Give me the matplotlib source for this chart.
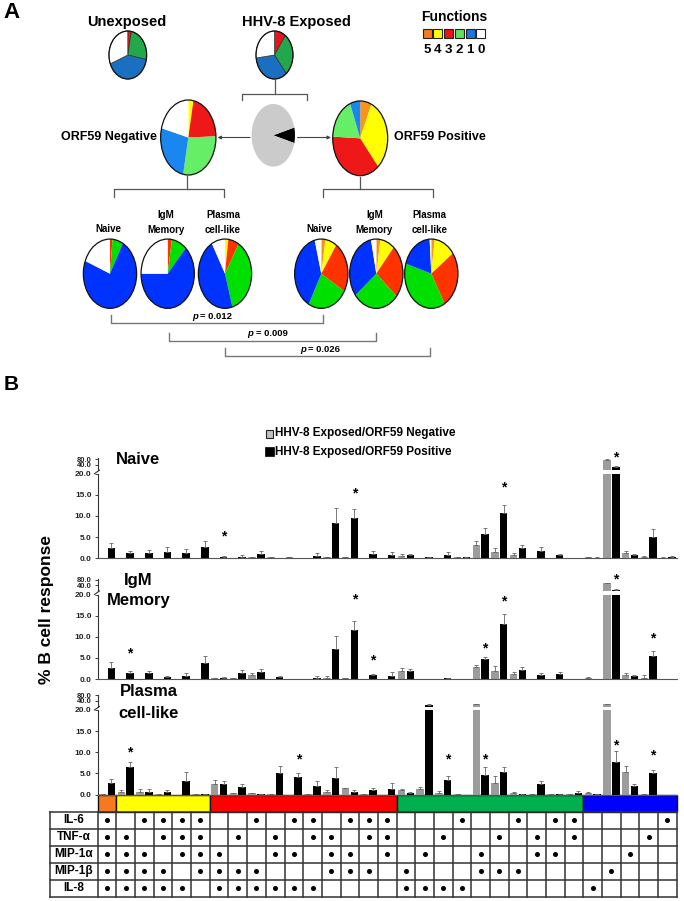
import matplotlib
matplotlib.use("Agg")
import matplotlib.pyplot as plt
from matplotlib.patches import Rectangle, Circle
from matplotlib.ticker import NullLocator
import numpy as np

plt.rcParams['font.family'] = ['Liberation Sans', 'DejaVu Sans']
plt.rcParams['font.weight'] = 'bold'

W, H = 684, 901

# ---- panel A: pie fractions (%), order = 5, 4, 3, 2, 1, 0 functions ----
FUNCS = ["5", "4", "3", "2", "1", "0"]
UNEXPOSED = [0, 0, 3, 25, 41, 31]
EXPOSED = [0, 0, 10, 29, 34, 27]
ORF59_NEG = [0, 3, 21.5, 28.5, 26, 21]
ORF59_POS = [6.7, 32, 37, 18.3, 6, 0]
SUBSETS = ["Naive", "IgM\nMemory", "Plasma\ncell-like"]
NEG_SUBSET_PIES = [[0, 0, 1.5, 6.5, 73, 19],
                   [0, 0, 2.5, 9.3, 63.2, 25],
                   [0, 2, 6.5, 37, 46.3, 8.2]]
POS_SUBSET_PIES = [[2.5, 7, 24, 24.3, 38.2, 4],
                   [2.5, 8.8, 25, 28, 32.5, 3.2],
                   [2, 13, 26.7, 38, 19.3, 1]]
ORF59_SPLIT = [8, 92]          # positive, negative
P_VALUES = ["0.012", "0.009", "0.026"]

# ---- panel B: % B cell response for the 31 cytokine combinations ----
GROUP_SIZES = [1, 5, 10, 10, 5]
naive_neg = [0.1, 0, 0, 0, 0, 0,
             0.1, 0.1, 0.3, 0.2, 0.3, 0.1, 0.3, 0.3, 0, 0,
             0.5, 0, 0.1, 0.2, 3.1, 1.5, 0.8, 0.1, 0, 0.1,
             0.2, 72, 1.2, 0.3, 0.1]
naive_neg_err = [0, 0, 0, 0, 0, 0,
                 0, 0, 0.1, 0, 0.1, 0, 0.1, 0.1, 0, 0,
                 0.5, 0, 0, 0.1, 1.0, 0.8, 0.4, 0, 0, 0,
                 0.1, 8, 0.4, 0.2, 0.1]
naive_pos = [2.4, 1.2, 1.3, 1.5, 1.2, 2.75,
             0.4, 0.4, 1.1, 0.1, 0, 0.6, 8.4, 9.45, 1.0, 0.8,
             0.7, 0.2, 0.8, 0.2, 5.7, 10.8, 2.3, 1.65, 0.7, 0.1,
             0.1, 29, 0.7, 5.1, 0.3]
naive_pos_err = [1.2, 0.4, 0.7, 1.2, 1.0, 1.25,
                 0.2, 0.3, 0.5, 0, 0, 0.6, 3.6, 2.15, 0.6, 0.7,
                 0.3, 0.1, 0.6, 0.1, 1.4, 1.8, 0.8, 1.0, 0.3, 0.05,
                 0.1, 7, 0.25, 1.7, 0.3]
igm_neg = [0.05, 0, 0.1, 0.1, 0, 0.1,
           0.2, 0.2, 0.85, 0, 0, 0.1, 0.3, 0.2, 0, 0,
           1.95, 0, 0.1, 0.1, 2.75, 1.95, 1.1, 0, 0.1, 0,
           0.2, 51.5, 0.85, 0.25, 0.1]
igm_neg_err = [0, 0, 0, 0, 0, 0,
               0, 0, 0.6, 0, 0, 0, 0.3, 0, 0, 0,
               0.7, 0, 0, 0, 0.6, 1.15, 0.6, 0, 0, 0,
               0.3, 5, 0.6, 0.7, 0]
igm_pos = [2.7, 1.4, 1.35, 0.45, 0.7, 3.85,
           0.3, 1.4, 1.55, 0.45, 0.1, 0.35, 7.1, 11.65, 1.0, 0.7,
           1.95, 0.1, 0.2, 0, 4.65, 13.0, 2.2, 0.95, 1.2, 0.1,
           0.1, 24, 0.7, 5.5, 0.1]
igm_pos_err = [1.4, 0.55, 0.45, 0.25, 0.75, 1.65,
               0.1, 0.7, 0.7, 0.25, 0, 0.3, 3.1, 2.15, 0.25, 1.0,
               0.4, 0, 0, 0, 0.55, 2.4, 0.55, 0.45, 0.45, 0,
               0, 3, 0.2, 1.2, 0]
plasma_neg = [0.2, 0.55, 0.7, 0.2, 0, 0.05,
              2.4, 0.4, 0.35, 0.2, 0, 0.05, 0.55, 1.5, 0.1, 0,
              1.0, 1.2, 0.4, 0.1, 26, 2.7, 0.3, 0.2, 0.1, 0.05,
              0.3, 26, 5.35, 0.2, 0]
plasma_neg_err = [0, 0.4, 0.5, 0, 0, 0,
                  1.1, 0, 0, 0, 0, 0, 0.5, 0.1, 0, 0,
                  0.3, 0.6, 0.5, 0, 2, 1.7, 0.4, 0, 0, 0,
                  0.3, 2, 1.45, 0, 0]
plasma_pos = [2.75, 6.5, 0.7, 0.55, 3.15, 0.15,
              2.5, 1.75, 0.2, 5.2, 4.25, 1.9, 3.85, 0.7, 0.95, 1.35,
              0.3, 25, 3.5, 0, 4.7, 5.3, 0.1, 2.45, 0.1, 0.25,
              0.1, 7.7, 2.05, 5.0, 0]
plasma_pos_err = [0.95, 1.3, 0.6, 0.4, 2.25, 0,
                  0.6, 0.7, 0, 1.6, 0.75, 1.4, 2.65, 0.4, 0.6, 1.45,
                  0.2, 2, 0.8, 0, 1.9, 1.2, 0, 0.85, 0, 0.5,
                  0, 2.5, 0.45, 0.7, 0]
naive_star_cols = [7, 14, 22, 28]
naive_star_y = [6.05, 16.1, 17.7, 24.8]
igm_star_cols = [2, 14, 15, 21, 22, 28, 30]
igm_star_y = [6.9, 19.7, 5.3, 8.1, 19.1, 24.4, 10.5]
plasma_star_cols = [2, 11, 19, 21, 28, 30]
plasma_star_y = [10.9, 9.1, 9.1, 9.1, 12.4, 10.1]

CYTOKINES = ["IL-6", "TNF-α", "MIP-1α", "MIP-1β", "IL-8"]
DOTS = {
    "IL-6":   [1, 3, 4, 5, 6, 9, 11, 12, 14, 15, 16, 20, 23, 25, 26, 31],
    "TNF-α":  [1, 2, 4, 5, 6, 8, 10, 12, 13, 15, 16, 19, 22, 24, 26, 30],
    "MIP-1α": [1, 2, 3, 5, 6, 7, 10, 11, 13, 14, 16, 18, 21, 24, 25, 29],
    "MIP-1β": [1, 2, 3, 4, 6, 7, 8, 9, 13, 14, 15, 17, 21, 22, 23, 28],
    "IL-8":   [1, 2, 3, 4, 5, 7, 8, 9, 10, 11, 12, 17, 18, 19, 20, 27],
}

TOP_COLORS = ['#f47920', '#ffff00', '#e8141b', '#22a84b', '#1a6fc0', '#ffffff']
MID_COLORS = ['#f7941d', '#ffff00', '#ee1818', '#66ee66', '#1a86f0', '#ffffff']
LOW_COLORS = ['#f7941d', '#ffff00', '#ff3300', '#00e000', '#0033ff', '#ffffff']
KEY_COLORS = ['#f47920', '#ffff00', '#ee1111', '#5fe35f', '#1a75dd', '#ffffff']
BAR_COLORS = ['#f47920', '#ffff00', '#ff0000', '#00b04f', '#0000ff']
GRAY = '#9c9c9c'

X0, CW = 97.7, 18.68
X1 = X0 + 31 * CW


def box(x0, y0, x1, y1):
    return [x0 / W, 1 - y1 / H, (x1 - x0) / W, (y1 - y0) / H]


fig = plt.figure(figsize=(W / 100, H / 100), dpi=100)
fig.patch.set_facecolor('white')
ov = fig.add_axes([0, 0, 1, 1])
ov.set_xlim(0, W)
ov.set_ylim(H, 0)
ov.axis('off')


def pie(cx, cy, w, h, fracs, colors, inner=True):
    ax = fig.add_axes(box(cx - w / 2, cy - h / 2, cx + w / 2, cy + h / 2))
    keep = [(f, c) for f, c in zip(fracs, colors) if f > 0]
    wedges, _ = ax.pie([f for f, _ in keep], colors=[c for _, c in keep],
                       startangle=90, counterclock=False,
                       wedgeprops=dict(linewidth=0.5 if inner else 0, edgecolor='#333'))
    for wd in wedges:
        wd.set_clip_on(False)
    ax.add_patch(Circle((0, 0), 1, fill=False, lw=0.9, ec='#111', clip_on=False))
    ax.set_aspect('auto')
    ax.set_xlim(-1, 1)
    ax.set_ylim(-1, 1)
    ax.axis('off')


# ---------------- panel A ----------------
ov.text(3, 13, 'A', fontsize=16, va='center')
ov.text(126.7, 22.3, 'Unexposed', fontsize=10.5, ha='center', va='center')
ov.text(296, 22.3, 'HHV-8 Exposed', fontsize=10.5, ha='center', va='center')
pie(127.8, 55, 37.7, 48, UNEXPOSED, TOP_COLORS)
pie(274.5, 55, 37, 48, EXPOSED, TOP_COLORS)

ov.text(454, 17, 'Functions', fontsize=10, ha='center', va='center')
for k, (f, c) in enumerate(zip(FUNCS, KEY_COLORS)):
    ov.add_patch(Rectangle((422.7 + 10.7 * k, 29), 9, 9.3, fc=c, ec='#222', lw=0.8))
    ov.text(427.2 + 10.7 * k, 50, f, fontsize=9.5, ha='center', va='center')

lc = '#555'
ov.plot([274.5, 274.5], [80, 94.3], c=lc, lw=0.9)
ov.plot([242.3, 242.3, 306.7, 306.7], [100, 94.3, 94.3, 100], c=lc, lw=0.9)

gax = fig.add_axes(box(273.3 - 21.7, 135.3 - 31.3, 273.3 + 21.7, 135.3 + 31.3))
gax.pie(ORF59_SPLIT, colors=['black', '#cbcbcb'], startangle=-14.4,
        wedgeprops=dict(linewidth=0))
gax.set_aspect('auto')
gax.set_xlim(-1, 1)
gax.set_ylim(-1, 1)
gax.axis('off')

arrow = dict(arrowstyle='-|>', color='#444', lw=0.8, mutation_scale=5, shrinkA=0, shrinkB=0)
ov.annotate('', xy=(217.5, 137.5), xytext=(250, 137.5), arrowprops=arrow)
ov.annotate('', xy=(331, 137.5), xytext=(297.5, 137.5), arrowprops=arrow)

pie(188.3, 137.5, 55.3, 75, ORF59_NEG, MID_COLORS, inner=False)
pie(360.2, 138.3, 55, 74.7, ORF59_POS, MID_COLORS, inner=False)
ov.text(156.7, 137.3, 'ORF59 Negative', fontsize=9, ha='right', va='center')
ov.text(394.3, 137.3, 'ORF59 Positive', fontsize=9, ha='left', va='center')

ov.plot([186.7, 186.7], [175.5, 189.3], c=lc, lw=0.9)
ov.plot([114.3, 114.3, 224.3, 224.3], [196.7, 189.3, 189.3, 196.7], c=lc, lw=0.9)
ov.plot([360, 360], [176.5, 189.3], c=lc, lw=0.9)
ov.plot([322.7, 322.7, 433.3, 433.3], [196.7, 189.3, 189.3, 196.7], c=lc, lw=0.9)

neg_x = [110, 167.7, 225]
pos_x = [321.3, 376.3, 431.3]
for names, xs, fr in ((SUBSETS, neg_x, NEG_SUBSET_PIES), (SUBSETS, pos_x, POS_SUBSET_PIES)):
    for name, cx, f in zip(names, xs, fr):
        pie(cx, 273.7, 53.3, 69.3, f, LOW_COLORS, inner=False)
        lines = name.split('\n')
        ys = [229] if len(lines) == 1 else [215, 230]
        for ln, yy in zip(lines, ys):
            ov.text(cx - 2, yy, ln, fontsize=7, ha='center', va='center')

brackets = [(110.7, 323.3, 323.3, 211), (169, 376, 341, 266.7), (225, 430, 356, 319)]
for (xa, xb, yb, tx), pv in zip(brackets, P_VALUES):
    ov.plot([xa, xa, xb, xb], [yb - 8.5, yb, yb, yb - 8.5], c='#777', lw=1)
    ov.text(tx - 19, yb - 7, 'p', fontsize=6.8, style='italic', ha='left', va='center')
    ov.text(tx - 11, yb - 7, '= ' + pv, fontsize=6.8, ha='left', va='center')

# ---------------- panel B ----------------
ov.text(4, 385, 'B', fontsize=15, va='center')
ov.add_patch(Rectangle((265.5, 429.5), 7.5, 8, fc='#c0c0c0', ec='#222', lw=0.8))
ov.add_patch(Rectangle((265, 446.5), 8.5, 9, fc='black', ec='black', lw=0.5))
ov.text(275, 433.3, 'HHV-8 Exposed/ORF59 Negative', fontsize=8.5, va='center')
ov.text(275, 451.7, 'HHV-8 Exposed/ORF59 Positive', fontsize=8.5, va='center')
ov.text(47, 610, '% B cell response', fontsize=12.5, rotation=90, ha='center', va='center')

xc = np.arange(31) + 0.5
OFF, BW = 0.235, 0.4


def bar_panel(y_top, neg, neg_err, pos, pos_err, star_cols, star_y):
    neg, neg_err = np.array(neg, float), np.array(neg_err, float)
    pos, pos_err = np.array(pos, float), np.array(pos_err, float)
    ax = fig.add_axes(box(X0, y_top, X1, y_top + 84.5))
    up = fig.add_axes(box(X0, y_top - 15.5, X1, y_top - 3.5))
    for a in (ax, up):
        a.patch.set_visible(False)
        a.set_xlim(0, 31)
        a.set_xticks([])
        for s in ('top', 'right'):
            a.spines[s].set_visible(False)
        a.spines['left'].set_color('#333')
        a.spines['left'].set_linewidth(0.8)
        a.tick_params(axis='y', labelsize=6, length=2.5, width=0.6, pad=2, colors='#222')
    up.tick_params(axis='y', labelsize=5.5)
    up.spines['bottom'].set_visible(False)
    ax.spines['bottom'].set_color('#555')
    ax.spines['bottom'].set_linewidth(0.8)

    ax.set_ylim(0, 20)
    ax.set_yticks([0, 5, 10, 15, 20], ['0.0', '5.0', '10.0', '15.0', '20.0'])
    up.set_yscale('log')
    up.set_ylim(20, 90)
    up.yaxis.set_minor_locator(NullLocator())
    up.set_yticks([40, 80], ['40.0', '80.0'])

    ek = dict(fmt='none', elinewidth=0.6, capsize=1.5, capthick=0.6, ecolor='#666')
    for vals, errs, dx, col in ((neg, neg_err, -OFF, GRAY), (pos, pos_err, OFF, 'black')):
        ax.bar(xc + dx, vals, width=BW, color=col, lw=0)
        lo = vals <= 20
        ax.errorbar(xc[lo] + dx, vals[lo], yerr=[np.zeros(lo.sum()), errs[lo]], **ek)
        hi = vals > 20
        if hi.any():
            up.bar(xc[hi] + dx, vals[hi] - 20, bottom=20, width=BW, color=col, lw=0)
            up.errorbar(xc[hi] + dx, vals[hi], yerr=[np.zeros(hi.sum()), errs[hi]], **ek)
    for c, sy in zip(star_cols, star_y):
        ax.annotate('*', (c - 0.5 + OFF, sy), xytext=(0, -5.5), textcoords='offset points',
                    ha='center', va='baseline', fontsize=10, annotation_clip=False)
    # axis break mark
    yb = y_top - 1.8
    ov.plot([94.5, 99.5], [yb + 1.8, yb - 1.8], c='#333', lw=0.8)


bar_panel(473.7, naive_neg, naive_neg_err, naive_pos, naive_pos_err, naive_star_cols, naive_star_y)
bar_panel(594.5, igm_neg, igm_neg_err, igm_pos, igm_pos_err, igm_star_cols, igm_star_y)
bar_panel(710, plasma_neg, plasma_neg_err, plasma_pos, plasma_pos_err, plasma_star_cols, plasma_star_y)

ov.text(116, 459, 'Naive', fontsize=12, ha='left', va='center')
ov.text(124, 580, 'IgM', fontsize=12, ha='left', va='center')
ov.text(107, 600, 'Memory', fontsize=12, ha='left', va='center')
ov.text(120, 691, 'Plasma', fontsize=12, ha='left', va='center')
ov.text(118, 713, 'cell-like', fontsize=12, ha='left', va='center')

# colour key bar under the plasma panel
start = 0
for n, c in zip(GROUP_SIZES, BAR_COLORS):
    ov.add_patch(Rectangle((X0 + CW * start, 795), CW * n, 16.7, fc=c, ec='#111', lw=1))
    start += n

# cytokine table
T_TOP, ROW_H = 811.7, 17
tc = '#333'
for r in range(len(CYTOKINES) + 1):
    ov.plot([50, X1], [T_TOP + ROW_H * r] * 2, c=tc, lw=1.1)
ov.plot([50, 50], [T_TOP, T_TOP + ROW_H * 5], c=tc, lw=1.1)
for i in range(32):
    ov.plot([X0 + CW * i] * 2, [T_TOP, T_TOP + ROW_H * 5], c=tc, lw=1.1)
for r, name in enumerate(CYTOKINES):
    yc = T_TOP + ROW_H * (r + 0.5)
    ov.text(73.5, yc, name, fontsize=8.5, ha='center', va='center')
    cols = np.array(DOTS[name])
    ov.plot(X0 + CW * (cols - 0.5), np.full(len(cols), yc), 'o', ms=2.6, color='black')

fig.savefig('out.png', dpi=100, facecolor='white')
